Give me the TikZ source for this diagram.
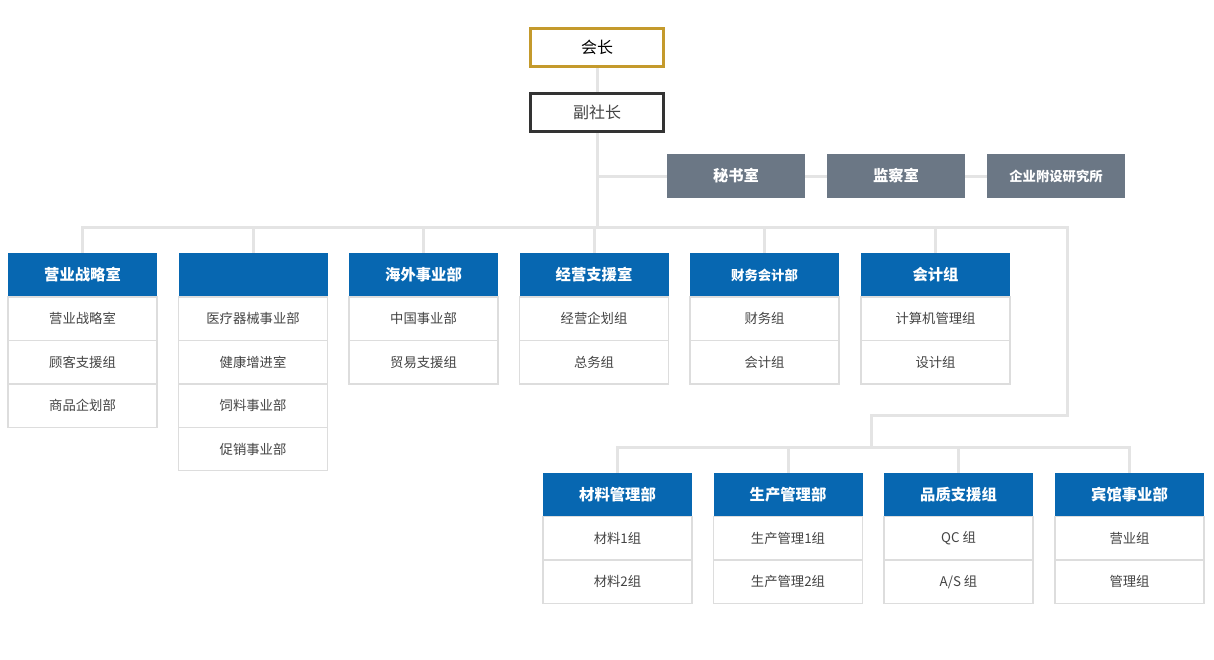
\documentclass[tikz,border=0pt]{standalone}
\usepackage{fontspec}
\setmainfont{Noto Sans CJK SC}
\usetikzlibrary{positioning, backgrounds}
\definecolor{headcol}{RGB}{7,103,177}
\definecolor{sidecol}{RGB}{107,119,133}
\definecolor{goldcol}{RGB}{196,154,44}
\definecolor{darkcol}{RGB}{51,51,51}
\definecolor{linecol}{RGB}{228,228,228}
\definecolor{cellcol}{RGB}{221,221,221}
\definecolor{txtcol}{RGB}{68,68,68}
\tikzset{
  topbox/.style={draw, line width=2.25pt, fill=white, minimum width=100pt, minimum height=28.5pt, inner sep=0pt, outer sep=0pt, font=\fontsize{12}{14}\selectfont},
  sidebox/.style={fill=sidecol, text=white, minimum width=103.5pt, minimum height=33pt, inner sep=0pt, outer sep=0pt, font=\fontsize{11.5}{14}\selectfont\bfseries},
  headbox/.style={fill=headcol, text=white, minimum width=111.75pt, minimum height=33pt, inner sep=0pt, outer sep=0pt, font=\fontsize{11.5}{14}\selectfont\bfseries},
  itembox/.style={draw=cellcol, line width=0.9pt, fill=white, text=txtcol, minimum width=111.75pt, minimum height=32.6pt, inner sep=0pt, outer sep=0pt, font=\fontsize{10}{12}\selectfont},
  conn/.style={draw=linecol, line width=2.25pt}
}
\begin{document}
\begin{tikzpicture}[x=0.75pt, y=-0.75pt, node distance=0pt]
\useasboundingbox (0,0) rectangle (1214,660);

% top
\node[topbox, draw=goldcol, text=black] (pres) at (597,47.5) {会长};
\node[topbox, draw=darkcol, text=txtcol] (vp) at (597,112.5) {副社长};

% staff offices
\node[sidebox] (s1) at (736,176) {秘书室};
\node[sidebox] (s2) at (896,176) {监察室};
\node[sidebox, font=\fontsize{10}{12}\selectfont\bfseries] (s3) at (1056,176) {企业附设研究所};

% upper row
\node[headbox] (h1) at (82.5,275) {营业战略室};
\node[itembox, below=of h1] (h1a) {营业战略室};
\node[itembox, below=of h1a] (h1b) {顾客支援组};
\node[itembox, below=of h1b] (h1c) {商品企划部};

\node[headbox] (h2) at (253,275) {};
\node[itembox, below=of h2] (h2a) {医疗器械事业部};
\node[itembox, below=of h2a] (h2b) {健康增进室};
\node[itembox, below=of h2b] (h2c) {饲料事业部};
\node[itembox, below=of h2c] (h2d) {促销事业部};

\node[headbox] (h3) at (423.5,275) {海外事业部};
\node[itembox, below=of h3] (h3a) {中国事业部};
\node[itembox, below=of h3a] (h3b) {贸易支援组};

\node[headbox] (h4) at (594,275) {经营支援室};
\node[itembox, below=of h4] (h4a) {经营企划组};
\node[itembox, below=of h4a] (h4b) {总务组};

\node[headbox, font=\fontsize{10}{12}\selectfont\bfseries] (h5) at (764.5,275) {财务会计部};
\node[itembox, below=of h5] (h5a) {财务组};
\node[itembox, below=of h5a] (h5b) {会计组};

\node[headbox] (h6) at (935.5,275) {会计组};
\node[itembox, below=of h6] (h6a) {计算机管理组};
\node[itembox, below=of h6a] (h6b) {设计组};

% lower row
\node[headbox] (b1) at (617.5,494.5) {材料管理部};
\node[itembox, below=of b1] (b1a) {材料1组};
\node[itembox, below=of b1a] (b1b) {材料2组};

\node[headbox] (b2) at (788,494.5) {生产管理部};
\node[itembox, below=of b2] (b2a) {生产管理1组};
\node[itembox, below=of b2a] (b2b) {生产管理2组};

\node[headbox] (b3) at (958.5,494.5) {品质支援组};
\node[itembox, below=of b3] (b3a) {QC 组};
\node[itembox, below=of b3a] (b3b) {A/S 组};

\node[headbox] (b4) at (1129.5,494.5) {宾馆事业部};
\node[itembox, below=of b4] (b4a) {营业组};
\node[itembox, below=of b4a] (b4b) {管理组};

% connectors
\coordinate (bus) at (597,227);
\coordinate (turn) at (1067,415);
\coordinate (bus2) at (871,447);
\begin{scope}[on background layer]
\draw[conn] (pres) -- (vp);
\draw[conn] (vp) -- (bus);
\draw[conn] (vp.south |- s1) -- (s1) -- (s2) -- (s3);
\draw[conn] (h1.north) |- (turn |- bus) -- (turn) -| (bus2);
\foreach \n in {h2,h3,h4,h5,h6}
  \draw[conn] (\n.north) -- (\n.north |- bus);
\draw[conn] (b1.north) |- (b4.north |- bus2) -- (b4.north);
\foreach \n in {b2,b3}
  \draw[conn] (\n.north) -- (\n.north |- bus2);
\end{scope}
\end{tikzpicture}
\end{document}
